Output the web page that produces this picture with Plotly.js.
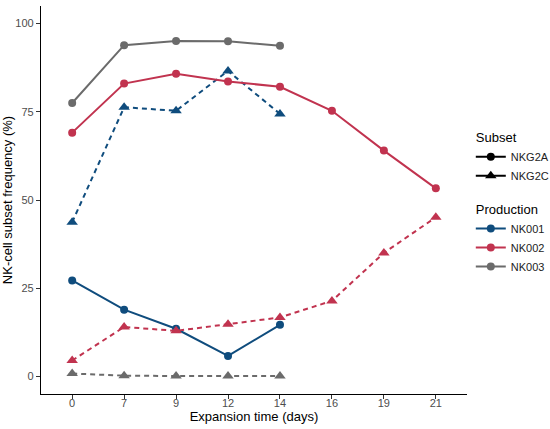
<!DOCTYPE html>
<html>
<head>
<meta charset="utf-8">
<script src="https://cdn.plot.ly/plotly-3.0.1.min.js"></script>
<style>html,body{margin:0;padding:0;background:#fff;}#chart{width:550px;height:429px;}</style>
</head>
<body>
<div id="chart"></div>
<script>
const days = ['0','7','9','12','14','16','19','21'];
const productions = ['NK001','NK002','NK003'];
const subsets = ['NKG2A','NKG2C'];
const colors = {NK001:'#0f4c7d', NK002:'#c1334f', NK003:'#6b6b6b'};
const nk001_NKG2A = [27.2, 18.9, 13.5, 5.8, 14.6];
const nk001_NKG2C = [43.7, 76.3, 75.3, 86.6, 74.4];
const nk002_NKG2A = [69.1, 83.0, 85.8, 83.6, 82.1, 75.3, 64.0, 53.3];
const nk002_NKG2C = [4.5, 14.0, 12.9, 14.8, 16.7, 21.4, 35.0, 45.1];
const nk003_NKG2A = [77.5, 93.9, 95.1, 95.0, 93.7];
const nk003_NKG2C = [0.8, 0.2, 0.1, 0.1, 0.1];

const series = {
  NK001:{NKG2A:nk001_NKG2A, NKG2C:nk001_NKG2C},
  NK002:{NKG2A:nk002_NKG2A, NKG2C:nk002_NKG2C},
  NK003:{NKG2A:nk003_NKG2A, NKG2C:nk003_NKG2C}
};
const symbols = {NKG2A:'circle', NKG2C:'triangle-up'};
const dashes = {NKG2A:'solid', NKG2C:'5px,4px'};
const msize = {NKG2A:8, NKG2C:10};

const traces = [];
productions.forEach(p => {
  subsets.forEach(s => {
    const ys = series[p][s];
    traces.push({
      type:'scatter', mode:'lines+markers',
      x: days.slice(0, ys.length), y: ys,
      line:{color:colors[p], width:2, dash:dashes[s]},
      marker:{color:colors[p], symbol:symbols[s], size:msize[s]},
      showlegend:false, hoverinfo:'x+y'
    });
  });
});
// legend entries
subsets.forEach((s,i) => {
  traces.push({
    type:'scatter', mode:'lines+markers', x:[null], y:[null],
    name:s, legendgroup:'subset', legendrank:1+i,
    legendgrouptitle: i===0 ? {text:'Subset', font:{size:13, color:'#000'}} : undefined,
    line:{color:'#000', width:2}, marker:{color:'#000', symbol:symbols[s], size:msize[s]}
  });
});
productions.forEach((p,i) => {
  traces.push({
    type:'scatter', mode:'lines+markers', x:[null], y:[null],
    name:p, legendgroup:'production', legendrank:10+i,
    legendgrouptitle: i===0 ? {text:'Production', font:{size:13, color:'#000'}} : undefined,
    line:{color:colors[p], width:2}, marker:{color:colors[p], symbol:'circle', size:8}
  });
});

const layout = {
  width:550, height:429,
  margin:{l:41, r:83, t:6, b:35},
  paper_bgcolor:'#fff', plot_bgcolor:'#fff',
  font:{family:'Liberation Sans, Arial, sans-serif', color:'#000'},
  xaxis:{
    type:'category', categoryorder:'array', categoryarray:days,
    range:[-0.6, 7.6], showgrid:false, zeroline:false,
    showline:true, linecolor:'#000', linewidth:1.1,
    ticks:'outside', ticklen:4, tickcolor:'#333', tickwidth:1,
    ticklabelstandoff:-5,
    tickfont:{size:11, color:'#4d4d4d'},
    title:{text:'Expansion time (days)', font:{size:13, color:'#000'}, standoff:0}
  },
  yaxis:{
    range:[-5, 105], tickvals:[0,25,50,75,100],
    showgrid:false, zeroline:false,
    showline:true, linecolor:'#000', linewidth:1.1,
    ticks:'outside', ticklen:4, tickcolor:'#333', tickwidth:1,
    tickfont:{size:11, color:'#4d4d4d'},
    title:{text:'NK-cell subset frequency (%)', font:{size:13, color:'#000'}, standoff:2}
  },
  legend:{
    xref:'container', yref:'container',
    x:0.856, xanchor:'left', y:0.715, yanchor:'top',
    traceorder:'grouped', tracegroupgap:14,
    font:{size:11, color:'#222'}, itemwidth:30, bgcolor:'rgba(0,0,0,0)'
  },
  showlegend:true
};
Plotly.newPlot('chart', traces, layout, {displayModeBar:false, staticPlot:true});
</script>
</body>
</html>
